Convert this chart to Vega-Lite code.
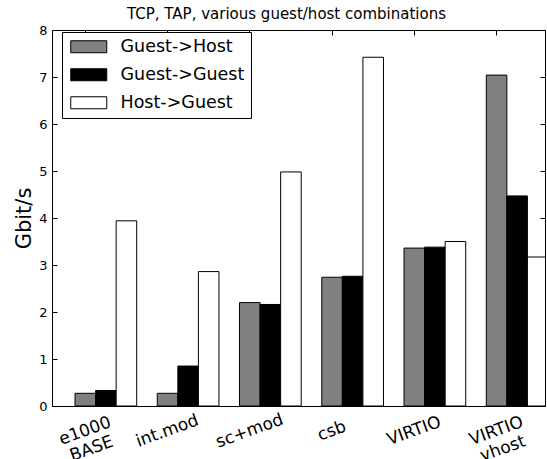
{
  "$schema": "https://vega.github.io/schema/vega-lite/v6.json",
  "width": 493,
  "height": 376,
  "autosize": "none",
  "padding": {"left": 52, "top": 30, "right": 2, "bottom": 53},
  "background": "white",
  "data": {"values": [
    {"group": "e1000 BASE", "series": "Guest->Host", "value": 0.27},
    {"group": "e1000 BASE", "series": "Guest->Guest", "value": 0.33},
    {"group": "e1000 BASE", "series": "Host->Guest", "value": 3.94},
    {"group": "int.mod", "series": "Guest->Host", "value": 0.27},
    {"group": "int.mod", "series": "Guest->Guest", "value": 0.85},
    {"group": "int.mod", "series": "Host->Guest", "value": 2.86},
    {"group": "sc+mod", "series": "Guest->Host", "value": 2.2},
    {"group": "sc+mod", "series": "Guest->Guest", "value": 2.16},
    {"group": "sc+mod", "series": "Host->Guest", "value": 4.98},
    {"group": "csb", "series": "Guest->Host", "value": 2.74},
    {"group": "csb", "series": "Guest->Guest", "value": 2.76},
    {"group": "csb", "series": "Host->Guest", "value": 7.42},
    {"group": "VIRTIO", "series": "Guest->Host", "value": 3.36},
    {"group": "VIRTIO", "series": "Guest->Guest", "value": 3.38},
    {"group": "VIRTIO", "series": "Host->Guest", "value": 3.5},
    {"group": "VIRTIO vhost", "series": "Guest->Host", "value": 7.04},
    {"group": "VIRTIO vhost", "series": "Guest->Guest", "value": 4.47},
    {"group": "VIRTIO vhost", "series": "Host->Guest", "value": 3.17}
  ]},
  "layer": [
    {
      "mark": {"type": "bar", "stroke": "black", "strokeWidth": 1, "clip": true},
      "encoding": {
        "x": {"field": "group", "type": "nominal", "sort": null,
          "scale": {"type": "band", "range": [0, 519], "paddingInner": 0.25, "paddingOuter": 0.28},
          "axis": {"orient": "bottom", "title": null, "labelAngle": -20, "labelAlign": "center", "labelBaseline": "top", "labelFontSize": 17, "labelPadding": 22, "labelOffset": -23.5, "bandPosition": 0.1667, "labelOverlap": false, "labelBound": false, "labelExpr": "split(datum.label, ' ')"}},
        "xOffset": {"field": "series", "type": "nominal", "sort": ["Guest->Host", "Guest->Guest", "Host->Guest"]},
        "y": {"field": "value", "type": "quantitative",
          "scale": {"domain": [0, 8], "nice": false, "zero": true},
          "axis": {"title": "Gbit/s", "values": [0, 1, 2, 3, 4, 5, 6, 7, 8], "labelFontSize": 13, "labelPadding": 10, "titleFontSize": 21, "titleFontWeight": "normal", "titleAngle": -90, "titleX": -28, "titleY": 188, "titleAlign": "center", "titleBaseline": "middle"}},
        "color": {"field": "series", "type": "nominal", "sort": ["Guest->Host", "Guest->Guest", "Host->Guest"],
          "scale": {"domain": ["Guest->Host", "Guest->Guest", "Host->Guest"], "range": ["#808080", "#000000", "#ffffff"]},
          "legend": {"title": null, "orient": "none", "legendX": 10, "legendY": 2, "direction": "vertical", "strokeColor": "black", "fillColor": "white", "padding": 6, "symbolType": "M-3,-1H3V1H-3Z", "symbolSize": 144, "symbolOffset": 12, "labelOffset": 23, "labelFontSize": 17.5, "labelFont": "DejaVu Sans", "labelColor": "black", "symbolStrokeColor": "black", "symbolStrokeWidth": 1, "rowPadding": 9, "symbolOpacity": 1, "labelLimit": 300}}
      }
    },
    {
      "mark": {"type": "bar", "opacity": 0},
      "encoding": {
        "x": {"field": "group", "type": "nominal", "sort": null,
          "axis": {"orient": "top", "title": "TCP, TAP, various guest/host combinations", "titleFontSize": 15, "titleFontWeight": "normal", "titleAngle": 0, "titleAlign": "center", "titleBaseline": "alphabetic", "titleX": 234, "titleY": -12, "labels": false, "bandPosition": 0.1667}},
        "y": {"field": "value", "type": "quantitative",
          "axis": {"orient": "right", "title": null, "labels": false, "values": [0, 1, 2, 3, 4, 5, 6, 7, 8]}}
      }
    }
  ],
  "resolve": {"axis": {"x": "independent", "y": "independent"}},
  "config": {
    "view": {"stroke": "black", "strokeWidth": 1},
    "axis": {"grid": false, "domain": false, "tickColor": "black", "labelColor": "black", "titleColor": "black", "labelFont": "DejaVu Sans", "titleFont": "DejaVu Sans", "tickSize": -5, "tickWidth": 1}
  }
}
